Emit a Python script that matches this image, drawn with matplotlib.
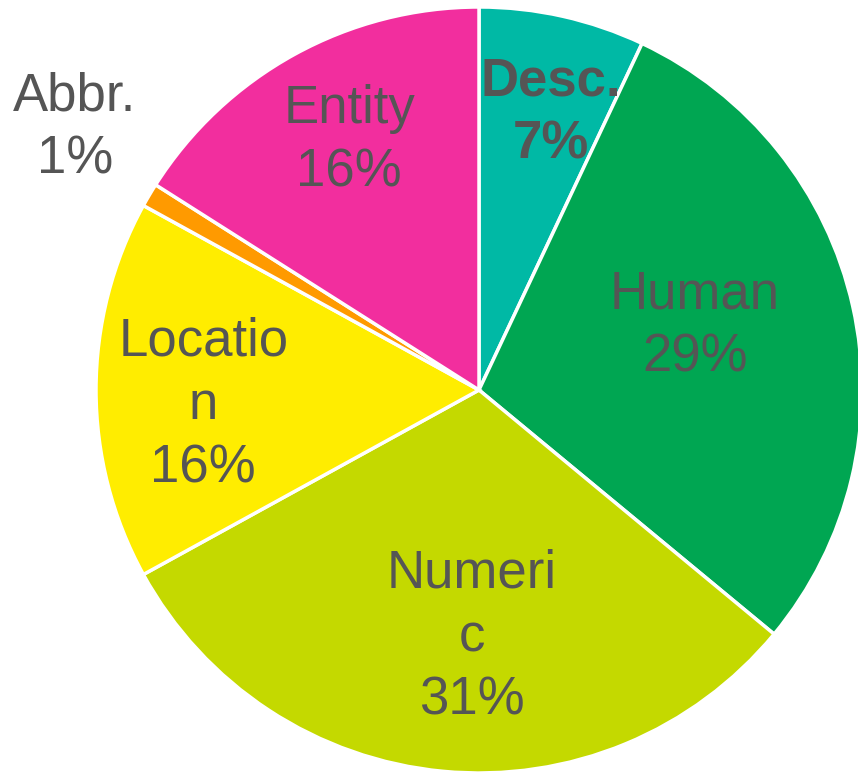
import matplotlib
matplotlib.use('Agg')
import matplotlib.pyplot as plt

plt.rcParams['font.family'] = ['Liberation Sans', 'DejaVu Sans']

# data (clockwise from 12 o'clock)
labels = ['Desc.', 'Human', 'Numeri\nc', 'Locatio\nn', 'Abbr.', 'Entity']
values = [7, 29, 31, 16, 1, 16]
colors = ['#00B9A5', '#00A652', '#C4D900', '#FFED00', '#FF9A00', '#F22E9E']
# label centres in units of radius (x, y)
label_pos = [(0.188, 0.723), (0.564, 0.167), (-0.018, -0.645),
             (-0.72, -0.039), (-1.055, 0.684), (-0.339, 0.650)]
bold = [True, False, False, False, False, False]

W, H = 858, 773
R = 383.0
cx, cy = 479.0, 390.0

fig = plt.figure(figsize=(W / 100, H / 100), dpi=100)
ax = fig.add_axes([0, 0, 1, 1])
wedges, _ = ax.pie(values, colors=colors, startangle=90, counterclock=False,
                   radius=1.0, wedgeprops=dict(edgecolor='white', linewidth=2.5))
ax.set_aspect('auto')
ax.set_xlim(-cx / R, (W - cx) / R)
ax.set_ylim(-(H - cy) / R, cy / R)
ax.axis('off')

for lab, v, (x, y), b in zip(labels, values, label_pos, bold):
    ax.text(x, y, f'{lab}\n{v}%', ha='center', va='center', fontsize=38,
            color='#555555', fontweight='bold' if b else 'normal',
            linespacing=1.35)

fig.savefig('out.png', dpi=100)
